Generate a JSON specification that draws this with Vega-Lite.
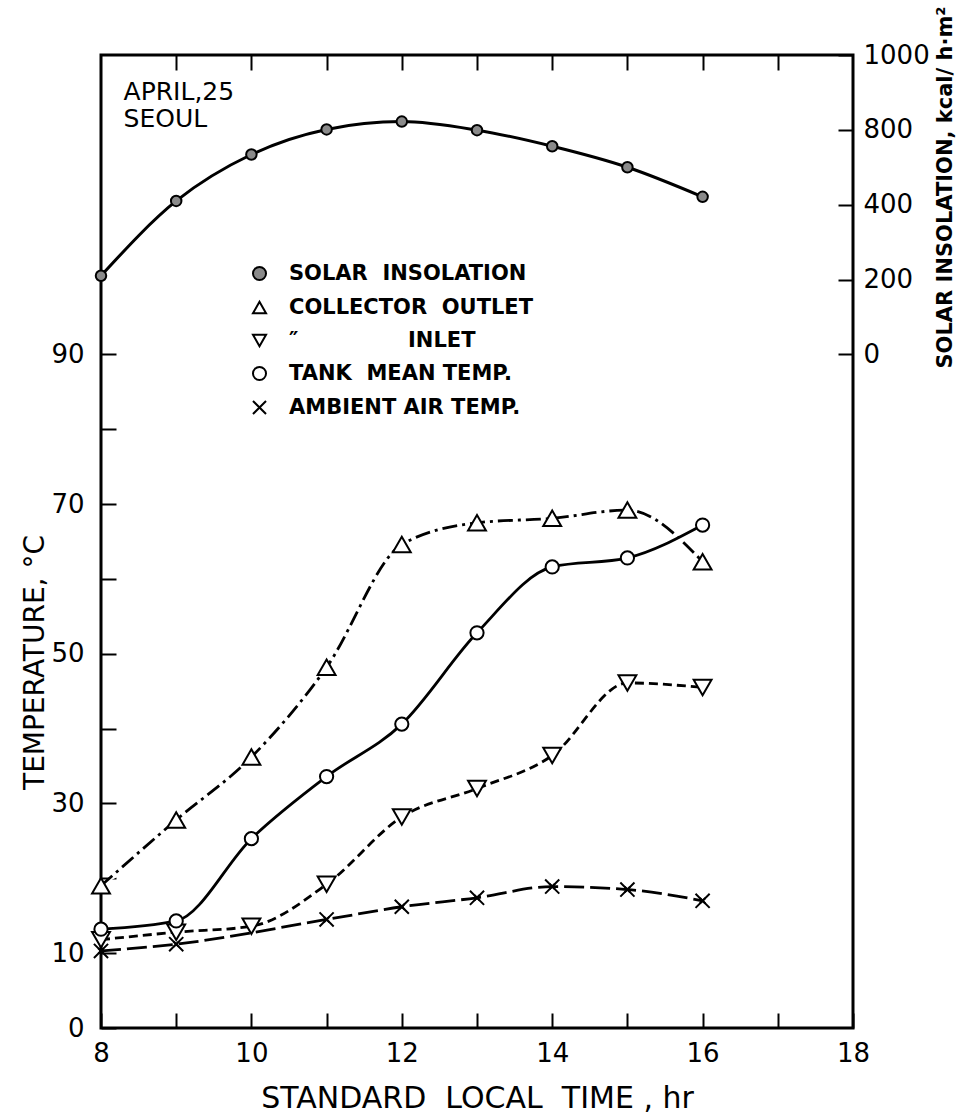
{
  "$schema": "https://vega.github.io/schema/vega-lite/v6.json",
  "width": 752,
  "height": 973,
  "autosize": "none",
  "padding": {"left": 101, "top": 55, "right": 109, "bottom": 85},
  "background": "white",
  "config": {
    "view": {"stroke": "black", "strokeWidth": 3},
    "font": "DejaVu Sans",
    "axis": {
      "grid": false, "domain": false,
      "tickColor": "black", "tickWidth": 2, "tickSize": 15, "offset": -15,
      "labelColor": "black", "labelFont": "DejaVu Sans", "labelFontSize": 26,
      "labelFlush": false, "labelOverlap": false,
      "titleColor": "black", "titleFont": "DejaVu Sans", "titleFontWeight": "normal"
    },
    "legend": {
      "labelFont": "DejaVu Sans", "labelFontSize": 21, "labelFontWeight": "bold", "labelColor": "black",
      "labelLimit": 0, "symbolSize": 170,
      "symbolStrokeColor": "black", "symbolStrokeWidth": 2
    },
    "point": {"filled": true, "strokeWidth": 2, "opacity": 1}
  },
  "datasets": {
    "temps": [
      {"time": 8, "series": "COLLECTOR OUTLET", "temp": 19.0},
      {"time": 9, "series": "COLLECTOR OUTLET", "temp": 27.8},
      {"time": 10, "series": "COLLECTOR OUTLET", "temp": 36.2},
      {"time": 11, "series": "COLLECTOR OUTLET", "temp": 48.2},
      {"time": 12, "series": "COLLECTOR OUTLET", "temp": 64.6},
      {"time": 13, "series": "COLLECTOR OUTLET", "temp": 67.5},
      {"time": 14, "series": "COLLECTOR OUTLET", "temp": 68.1},
      {"time": 15, "series": "COLLECTOR OUTLET", "temp": 69.2},
      {"time": 16, "series": "COLLECTOR OUTLET", "temp": 62.3},
      {"time": 8, "series": "COLLECTOR INLET", "temp": 11.8},
      {"time": 9, "series": "COLLECTOR INLET", "temp": 12.8},
      {"time": 10, "series": "COLLECTOR INLET", "temp": 13.6},
      {"time": 11, "series": "COLLECTOR INLET", "temp": 19.2},
      {"time": 12, "series": "COLLECTOR INLET", "temp": 28.2},
      {"time": 13, "series": "COLLECTOR INLET", "temp": 32.0},
      {"time": 14, "series": "COLLECTOR INLET", "temp": 36.4},
      {"time": 15, "series": "COLLECTOR INLET", "temp": 46.1},
      {"time": 16, "series": "COLLECTOR INLET", "temp": 45.5},
      {"time": 8, "series": "TANK MEAN TEMP.", "temp": 13.2},
      {"time": 9, "series": "TANK MEAN TEMP.", "temp": 14.3},
      {"time": 10, "series": "TANK MEAN TEMP.", "temp": 25.3},
      {"time": 11, "series": "TANK MEAN TEMP.", "temp": 33.6},
      {"time": 12, "series": "TANK MEAN TEMP.", "temp": 40.6},
      {"time": 13, "series": "TANK MEAN TEMP.", "temp": 52.8},
      {"time": 14, "series": "TANK MEAN TEMP.", "temp": 61.6},
      {"time": 15, "series": "TANK MEAN TEMP.", "temp": 62.8},
      {"time": 16, "series": "TANK MEAN TEMP.", "temp": 67.2},
      {"time": 8, "series": "AMBIENT AIR TEMP.", "temp": 10.3},
      {"time": 9, "series": "AMBIENT AIR TEMP.", "temp": 11.2},
      {"time": 11, "series": "AMBIENT AIR TEMP.", "temp": 14.5},
      {"time": 12, "series": "AMBIENT AIR TEMP.", "temp": 16.2},
      {"time": 13, "series": "AMBIENT AIR TEMP.", "temp": 17.4},
      {"time": 14, "series": "AMBIENT AIR TEMP.", "temp": 18.9},
      {"time": 15, "series": "AMBIENT AIR TEMP.", "temp": 18.5},
      {"time": 16, "series": "AMBIENT AIR TEMP.", "temp": 17.0}
    ],
    "solar": [
      {"time": 8, "series": "SOLAR INSOLATION", "insolation": 210},
      {"time": 9, "series": "SOLAR INSOLATION", "insolation": 420},
      {"time": 10, "series": "SOLAR INSOLATION", "insolation": 668},
      {"time": 11, "series": "SOLAR INSOLATION", "insolation": 801},
      {"time": 12, "series": "SOLAR INSOLATION", "insolation": 822},
      {"time": 13, "series": "SOLAR INSOLATION", "insolation": 798},
      {"time": 14, "series": "SOLAR INSOLATION", "insolation": 712},
      {"time": 15, "series": "SOLAR INSOLATION", "insolation": 600},
      {"time": 16, "series": "SOLAR INSOLATION", "insolation": 442}
    ],
    "notes": [
      {"note": "APRIL,25\nSEOUL"}
    ]
  },
  "layer": [
    {
      "layer": [
        {
          "data": {"name": "temps"},
          "encoding": {
            "x": {"field": "time", "type": "quantitative", "scale": {"domain": [8, 18], "nice": false, "zero": false},
              "axis": {"orient": "bottom", "values": [8, 9, 10, 11, 12, 13, 14, 15, 16, 17, 18], "labelExpr": "datum.value % 2 == 0 ? datum.label : ''", "labelPadding": 12, "title": "STANDARD\u00a0\u00a0LOCAL\u00a0\u00a0TIME , hr", "titleFontSize": 30, "titleY": 85, "titleBaseline": "middle"}},
            "y": {"field": "temp", "type": "quantitative", "scale": {"domain": [0, 130], "nice": false, "zero": true},
              "axis": {"orient": "left", "values": [0, 10, 20, 30, 40, 50, 60, 70, 80, 90], "labelExpr": "datum.value == 0 || datum.value % 20 == 10 ? datum.label : ''", "labelPadding": 17, "title": "TEMPERATURE, °C", "titleFontSize": 28, "titleX": -81, "titleY": 607, "titleBaseline": "middle"}},
            "shape": {
              "field": "series", "type": "nominal",
              "scale": {
                "domain": ["SOLAR INSOLATION", "COLLECTOR OUTLET", "COLLECTOR INLET", "TANK MEAN TEMP.", "AMBIENT AIR TEMP."],
                "range": ["circle", "triangle-up", "triangle-down", "circle", "M-1,-1L1,1M-1,1L1,-1"]
              },
              "legend": {
                "title": null, "orient": "none", "legendX": 148, "legendY": 208,
                "padding": 0, "rowPadding": 11, "labelOffset": 19, "labelLimit": 0,
                "labelExpr": "datum.label == 'COLLECTOR INLET' ? '\u00a0\u00a0\u00a0\u00a0\u00a0\u00a0\u00a0\u00a0\u2033\u00a0\u00a0\u00a0\u00a0\u00a0\u00a0\u00a0\u00a0\u00a0\u00a0\u00a0\u00a0\u00a0\u00a0\u00a0INLET' : datum.label == 'SOLAR INSOLATION' ? 'SOLAR\u00a0\u00a0INSOLATION' : datum.label == 'COLLECTOR OUTLET' ? 'COLLECTOR\u00a0\u00a0OUTLET' : datum.label == 'TANK MEAN TEMP.' ? 'TANK\u00a0\u00a0MEAN\u00a0TEMP.' : 'AMBIENT\u00a0AIR\u00a0TEMP.'"
              }
            },
            "fill": {
              "field": "series", "type": "nominal",
              "scale": {
                "domain": ["SOLAR INSOLATION", "COLLECTOR OUTLET", "COLLECTOR INLET", "TANK MEAN TEMP.", "AMBIENT AIR TEMP."],
                "range": ["#8a8a8a", "white", "white", "white", "white"]
              }
            },
            "stroke": {
              "field": "series", "type": "nominal",
              "scale": {
                "domain": ["SOLAR INSOLATION", "COLLECTOR OUTLET", "COLLECTOR INLET", "TANK MEAN TEMP.", "AMBIENT AIR TEMP."],
                "range": ["black", "black", "black", "black", "black"]
              }
            }
          },
          "layer": [
            {
              "transform": [{"filter": "datum.series == 'COLLECTOR OUTLET'"}],
              "mark": {"type": "line", "interpolate": "monotone", "color": "black", "strokeWidth": 2.8, "strokeDash": [15, 5, 3, 5]}
            },
            {
              "transform": [{"filter": "datum.series == 'COLLECTOR INLET'"}],
              "mark": {"type": "line", "interpolate": "monotone", "color": "black", "strokeWidth": 2.8, "strokeDash": [9, 5]}
            },
            {
              "transform": [{"filter": "datum.series == 'TANK MEAN TEMP.'"}],
              "mark": {"type": "line", "interpolate": "monotone", "color": "black", "strokeWidth": 2.8}
            },
            {
              "transform": [{"filter": "datum.series == 'AMBIENT AIR TEMP.'"}],
              "mark": {"type": "line", "interpolate": "monotone", "color": "black", "strokeWidth": 2.8, "strokeDash": [20, 6]}
            },
            {
              "transform": [{"filter": "datum.series == 'COLLECTOR OUTLET' || datum.series == 'COLLECTOR INLET'"}],
              "mark": {"type": "point", "size": 320}
            },
            {
              "transform": [{"filter": "datum.series == 'TANK MEAN TEMP.'"}],
              "mark": {"type": "point", "size": 175}
            },
            {
              "transform": [{"filter": "datum.series == 'AMBIENT AIR TEMP.'"}],
              "mark": {"type": "point", "size": 200}
            }
          ]
        },
        {
          "data": {"name": "notes"},
          "mark": {"type": "text", "align": "left", "baseline": "alphabetic", "fontSize": 25, "lineHeight": 27, "lineBreak": "\n", "font": "DejaVu Sans", "color": "black"},
          "encoding": {
            "x": {"datum": 8.3, "type": "quantitative", "scale": {"domain": [8, 18], "nice": false, "zero": false},
              "axis": {"orient": "bottom", "values": [8, 9, 10, 11, 12, 13, 14, 15, 16, 17, 18], "labelExpr": "datum.value % 2 == 0 ? datum.label : ''", "labelPadding": 12, "title": "STANDARD\u00a0\u00a0LOCAL\u00a0\u00a0TIME , hr", "titleFontSize": 30, "titleY": 85, "titleBaseline": "middle"}},
            "y": {"datum": 124.0, "type": "quantitative", "scale": {"domain": [0, 130], "nice": false, "zero": true},
              "axis": {"orient": "left", "values": [0, 10, 20, 30, 40, 50, 60, 70, 80, 90], "labelExpr": "datum.value == 0 || datum.value % 20 == 10 ? datum.label : ''", "labelPadding": 17, "title": "TEMPERATURE, °C", "titleFontSize": 28, "titleX": -81, "titleY": 607, "titleBaseline": "middle"}},
            "text": {"field": "note", "type": "nominal"}
          }
        }
      ]
    },
    {
      "data": {"name": "solar"},
      "encoding": {
        "x": {
          "field": "time", "type": "quantitative",
          "scale": {"domain": [8, 18], "nice": false, "zero": false},
          "axis": {"orient": "top", "values": [9, 10, 11, 12, 13, 14, 15, 16, 17], "labels": false, "title": null}
        },
        "y": {
          "field": "insolation", "type": "quantitative",
          "scale": {"domain": [0, 200, 400, 800, 1000], "range": [299.4, 224.5, 149.7, 74.8, 0], "nice": false, "zero": false},
          "axis": {
            "orient": "right",
            "values": [0, 200, 400, 800, 1000],
            "format": "d",
            "labelPadding": 10,
            "title": "SOLAR INSOLATION, kcal/ h·m²",
            "titleFontSize": 21,
            "titleFontWeight": "bold",
            "titleAngle": 270,
            "titleX": 107,
            "titleY": 132,
            "titleBaseline": "middle"
          }
        }
      },
      "layer": [
        {
          "mark": {"type": "line", "interpolate": "monotone", "color": "black", "strokeWidth": 3}
        },
        {
          "mark": {"type": "point", "size": 110},
          "encoding": {
            "shape": {
              "field": "series", "type": "nominal",
              "scale": {
                "domain": ["SOLAR INSOLATION", "COLLECTOR OUTLET", "COLLECTOR INLET", "TANK MEAN TEMP.", "AMBIENT AIR TEMP."],
                "range": ["circle", "triangle-up", "triangle-down", "circle", "M-1,-1L1,1M-1,1L1,-1"]
              }
            },
            "fill": {
              "field": "series", "type": "nominal",
              "scale": {
                "domain": ["SOLAR INSOLATION", "COLLECTOR OUTLET", "COLLECTOR INLET", "TANK MEAN TEMP.", "AMBIENT AIR TEMP."],
                "range": ["#8a8a8a", "white", "white", "white", "white"]
              }
            },
            "stroke": {
              "field": "series", "type": "nominal",
              "scale": {
                "domain": ["SOLAR INSOLATION", "COLLECTOR OUTLET", "COLLECTOR INLET", "TANK MEAN TEMP.", "AMBIENT AIR TEMP."],
                "range": ["black", "black", "black", "black", "black"]
              }
            }
          }
        }
      ]
    }
  ],
  "resolve": {"scale": {"y": "independent"}, "axis": {"x": "independent", "y": "independent"}}
}
